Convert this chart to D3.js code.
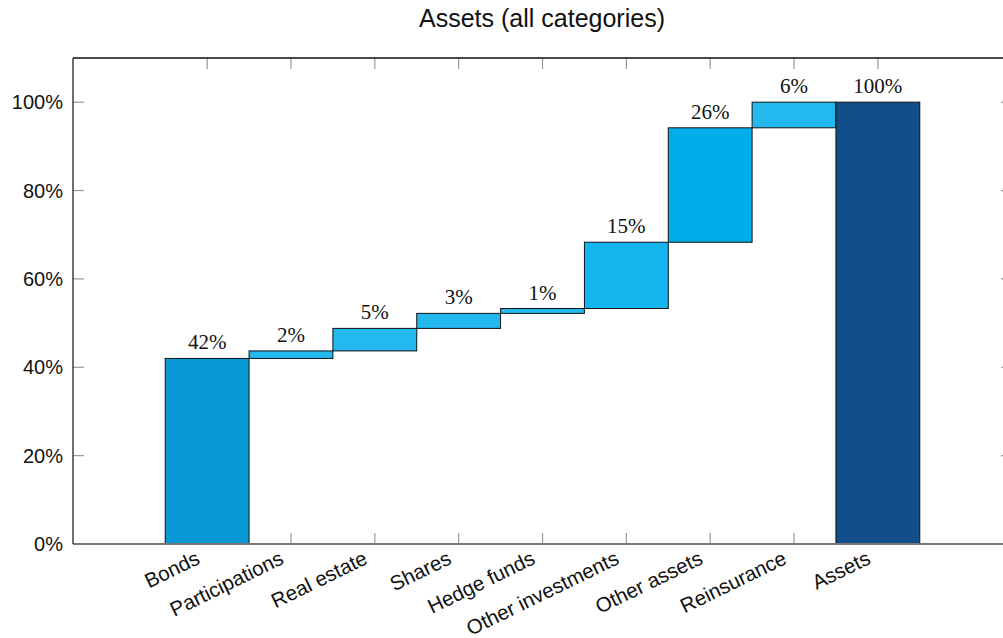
<!DOCTYPE html>
<html>
<head>
<meta charset="utf-8">
<script src="https://cdn.jsdelivr.net/npm/d3@7"></script>
<style>
  body { margin: 0; background: #fff; }
  svg { display: block; }
  .tick-label { font-family: "Liberation Sans", Arial, sans-serif; font-size: 20px; fill: #111; }
  .cat-label { font-family: "Liberation Sans", Arial, sans-serif; font-size: 20.5px; fill: #111; }
  .value-label { font-family: "Liberation Serif", "DejaVu Serif", serif; font-size: 21px; fill: #111; }
  .title { font-family: "Liberation Sans", Arial, sans-serif; font-size: 25px; fill: #111; }
</style>
</head>
<body>
<svg width="1003" height="638"></svg>
<script>
const categories = ['Bonds', 'Participations', 'Real estate', 'Shares', 'Hedge funds',
  'Other investments', 'Other assets', 'Reinsurance', 'Assets'];
// step sizes in percent, last entry is the total
const steps = [42.0, 1.7, 5.1, 3.4, 1.1, 15.0, 25.9, 5.8];
const total = 100;
const barColors = ['#0899d5', '#23b9ef', '#23b9ef', '#23b9ef', '#23b9ef',
  '#14b6ef', '#00afe9', '#23b9ef', '#124e89'];
const yTicks = [0, 20, 40, 60, 80, 100];

const svg = d3.select('svg');
const margin = {top: 58, left: 73, bottom: 94, right: -9};
const width = +svg.attr('width');
const height = +svg.attr('height');
const innerWidth = width - margin.left - margin.right;
const innerHeight = height - margin.top - margin.bottom;

// waterfall rows
let run = 0;
const rows = steps.map((v, i) => {
  const r = {cat: categories[i], i, y0: run, y1: run + v, label: Math.round(v) + '%'};
  run += v;
  return r;
});
rows.push({cat: categories[8], i: 8, y0: 0, y1: total, label: total + '%'});

const xScale = d3.scaleLinear().domain([-1.6, 9.6]).range([0, innerWidth]);
const yScale = d3.scaleLinear().domain([0, 110]).range([innerHeight, 0]);

const g = svg.append('g')
  .attr('transform', `translate(${margin.left},${margin.top})`);

// inward ticks, left / right
const tickLen = 11;
yTicks.forEach(t => {
  g.append('line').attr('x1', 0).attr('x2', tickLen)
    .attr('y1', yScale(t)).attr('y2', yScale(t))
    .attr('stroke', '#999').attr('stroke-width', 1.2);
  g.append('line').attr('x1', innerWidth - tickLen).attr('x2', innerWidth)
    .attr('y1', yScale(t)).attr('y2', yScale(t))
    .attr('stroke', '#999').attr('stroke-width', 1.2);
  g.append('text').attr('class', 'tick-label')
    .attr('x', -10).attr('y', yScale(t)).attr('dy', '0.35em')
    .attr('text-anchor', 'end')
    .text(t + '%');
});

// inward ticks, top / bottom
categories.forEach((c, i) => {
  g.append('line').attr('x1', xScale(i)).attr('x2', xScale(i))
    .attr('y1', 0).attr('y2', tickLen)
    .attr('stroke', '#999').attr('stroke-width', 1.2);
  g.append('line').attr('x1', xScale(i)).attr('x2', xScale(i))
    .attr('y1', innerHeight - tickLen).attr('y2', innerHeight)
    .attr('stroke', '#999').attr('stroke-width', 1.2);
  g.append('text').attr('class', 'cat-label')
    .attr('text-anchor', 'end')
    .attr('transform', `translate(${xScale(i) - 6},${innerHeight + 19}) rotate(-26)`)
    .text(c);
});

// bars
g.selectAll('rect.bar').data(rows).enter().append('rect')
  .attr('class', 'bar')
  .attr('x', d => xScale(d.i - 0.5))
  .attr('width', d => xScale(d.i + 0.5) - xScale(d.i - 0.5))
  .attr('y', d => yScale(d.y1))
  .attr('height', d => yScale(d.y0) - yScale(d.y1))
  .attr('fill', (d, i) => barColors[i])
  .attr('stroke', '#111')
  .attr('stroke-width', 1);

g.selectAll('text.value-label').data(rows).enter().append('text')
  .attr('class', 'value-label')
  .attr('x', d => xScale(d.i))
  .attr('y', d => yScale(d.y1) - 9)
  .attr('text-anchor', 'middle')
  .text(d => d.label);

// frame
g.append('line').attr('x1', 0).attr('x2', innerWidth).attr('y1', innerHeight).attr('y2', innerHeight)
  .attr('stroke', '#777').attr('stroke-width', 2);
g.append('line').attr('x1', 0).attr('x2', innerWidth).attr('y1', 0).attr('y2', 0)
  .attr('stroke', '#111').attr('stroke-width', 1.5);
g.append('line').attr('x1', 0).attr('x2', 0).attr('y1', 0).attr('y2', innerHeight)
  .attr('stroke', '#111').attr('stroke-width', 1.2);
g.append('line').attr('x1', innerWidth).attr('x2', innerWidth).attr('y1', 0).attr('y2', innerHeight)
  .attr('stroke', '#111').attr('stroke-width', 1.2);

svg.append('text').attr('class', 'title')
  .attr('x', 542).attr('y', 27)
  .attr('text-anchor', 'middle')
  .text('Assets (all categories)');
</script>
</body>
</html>
